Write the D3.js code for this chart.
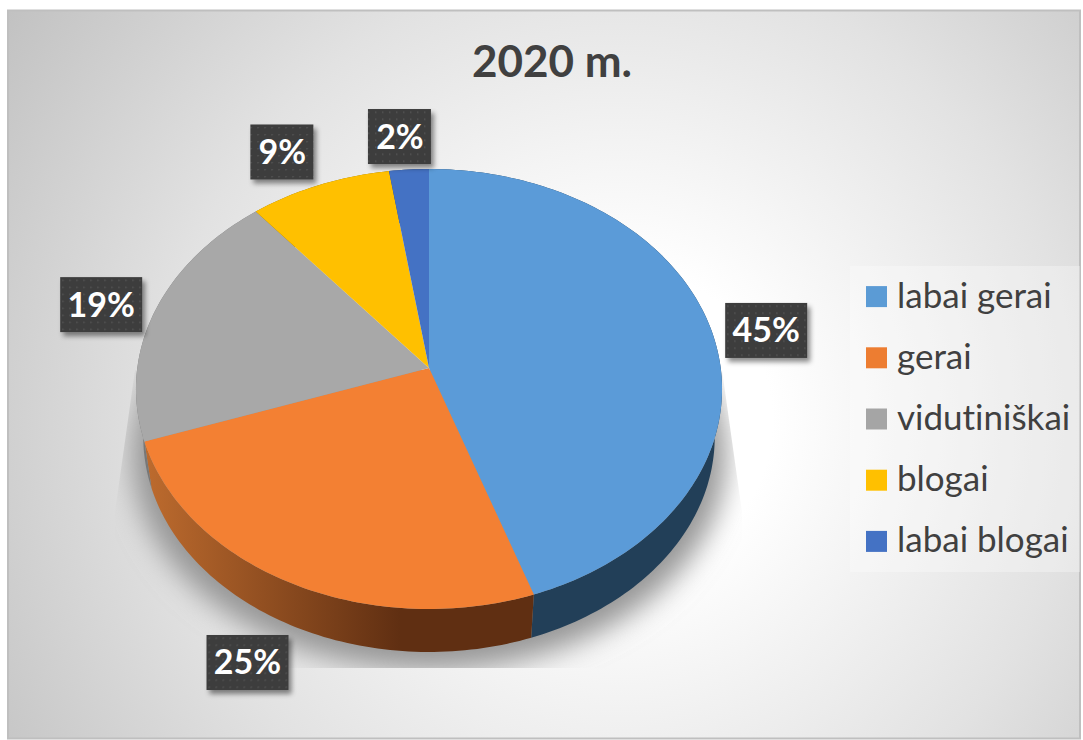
<!DOCTYPE html>
<html>
<head>
<meta charset="utf-8">
<title>2020 m.</title>
<style>
	body { margin: 0; background: #fff; font-family: Lato, sans-serif; }
	svg { display: block; }
	text { font-variant-ligatures: none; }
</style>
</head>
<body>
<script src="https://cdn.jsdelivr.net/npm/d3@7"></script>
<script>

// data
const categories = ["labai gerai", "gerai", "vidutiniškai", "blogai", "labai blogai"];
const values = [44.7, 25.0, 19.3, 8.6, 2.4];
const colors = ["#5B9BD5", "#ED7D31", "#A5A5A5", "#FFC000", "#4472C4"];
const faceColors = ["#5B9BD8", "#F38033", "#A8A8A8", "#FFC000", "#4472C4"];
const rimColors = ["#223F58", "url(#rimOrange)", "#777777", "#8a6a00", "#2a4478"];

// manual label placement, relative to the point on the pie edge
const labelNudge = [[54, -2], [-42, 80], [-54, -6], [-37, -33], [-9, -33]];

const W = 1083, H = 740;
const cx = 429, cy = 368;
const persp = -0.0955, ky = 218, kx = 291.7;  // tilt of the top face

// circle -> tilted top face
const project = a => {
	const u = Math.sin(a), v = -Math.cos(a), w = 1 + persp * v;
	return [cx + kx * u / w, cy + ky * v / w];
};
// same point on the bottom of the disc
const projectLow = a => {
	const p = project(a);
	return [cx + (p[0] - cx) * 0.975, 437 + (p[1] - 389) * 0.977];
};

const svg = d3.select("body").append("svg").attr("width", W).attr("height", H);
const defs = svg.append("defs");

const bg = defs.append("radialGradient").attr("id", "bg")
	.attr("gradientUnits", "userSpaceOnUse")
	.attr("cx", 620).attr("cy", 420).attr("r", 760);
bg.append("stop").attr("offset", "0.2").attr("stop-color", "#ffffff");
bg.append("stop").attr("offset", "0.6").attr("stop-color", "#e2e2e2");
bg.append("stop").attr("offset", "1").attr("stop-color", "#bfbfbf");

const rim = defs.append("linearGradient").attr("id", "rimOrange")
	.attr("gradientUnits", "userSpaceOnUse")
	.attr("x1", 145).attr("x2", 400).attr("y1", 0).attr("y2", 0);
rim.append("stop").attr("offset", "0").attr("stop-color", "#bd6b2e");
rim.append("stop").attr("offset", "1").attr("stop-color", "#602f12");

const dots = defs.append("pattern").attr("id", "dots")
	.attr("patternUnits", "userSpaceOnUse")
	.attr("width", 7).attr("height", 7);
dots.append("rect").attr("width", 7).attr("height", 7).attr("fill", "#3d3d3d");
dots.append("rect").attr("x", 3).attr("y", 3).attr("width", 1.4).attr("height", 1.4).attr("fill", "#575757");

defs.append("filter").attr("id", "blurBig")
	.attr("x", "-20%").attr("y", "-20%").attr("width", "140%").attr("height", "140%")
	.append("feGaussianBlur").attr("stdDeviation", 14);

const boxShadow = defs.append("filter").attr("id", "boxShadow")
	.attr("x", "-20%").attr("y", "-20%").attr("width", "150%").attr("height", "150%");
boxShadow.append("feDropShadow")
	.attr("dx", 3).attr("dy", 4).attr("stdDeviation", 2.5)
	.attr("flood-color", "#000").attr("flood-opacity", 0.45);

defs.append("clipPath").attr("id", "shadowClip")
	.append("polygon").attr("points", "135,370 115,512 115,668 742,668 742,512 722,370");

// background
svg.append("rect")
	.attr("x", 8).attr("y", 10.5).attr("width", W - 11).attr("height", H - 12)
	.attr("fill", "url(#bg)").attr("stroke", "#bfbfbf").attr("stroke-width", 2);

// pie layout
const pie = d3.pie().sort(null).value(d => d)(values);
const fullTurn = d3.range(0, 361, 2).map(d => d * Math.PI / 180);
const line = d3.line();

const arcAngles = (a, b) => {
	const n = Math.max(2, Math.ceil((b - a) / 0.02));
	return d3.range(n + 1).map(i => a + (b - a) * i / n);
};

// soft shadow under the disc
svg.append("g").attr("clip-path", "url(#shadowClip)")
	.append("path")
	.attr("d", line(fullTurn.map(a => {
		const p = projectLow(a);
		return [cx + (p[0] - cx) * 1.04, p[1] + 18];
	})) + "Z")
	.attr("fill", "#969696")
	.attr("filter", "url(#blurBig)");

// rim
svg.append("g").selectAll("path")
	.data(pie)
	.join("path")
	.attr("d", d => {
		const as = arcAngles(d.startAngle, d.endAngle);
		return line(as.map(project).concat(as.slice().reverse().map(projectLow))) + "Z";
	})
	.attr("fill", (d, i) => rimColors[i]);

// top face
svg.append("g").selectAll("path")
	.data(pie)
	.join("path")
	.attr("d", d => line([[cx, cy]].concat(arcAngles(d.startAngle, d.endAngle).map(project))) + "Z")
	.attr("fill", (d, i) => faceColors[i]);

// title
svg.append("text")
	.attr("x", 552).attr("y", 77)
	.attr("text-anchor", "middle")
	.attr("font-size", 44).attr("font-weight", 700)
	.attr("fill", "#404040")
	.text("2020 m.");

// data labels
const labels = svg.append("g").selectAll("g")
	.data(pie)
	.join("g")
	.attr("transform", (d, i) => {
		const p = project((d.startAngle + d.endAngle) / 2);
		return `translate(${p[0] + labelNudge[i][0]},${p[1] + labelNudge[i][1]})`;
	});

const labelText = d => Math.round(d.value) + "%";
labels.append("rect")
	.attr("x", d => labelText(d).length > 2 ? -41 : -32)
	.attr("width", d => labelText(d).length > 2 ? 82 : 63)
	.attr("y", -27.5).attr("height", 55)
	.attr("fill", "url(#dots)")
	.attr("filter", "url(#boxShadow)");
labels.append("text")
	.attr("text-anchor", "middle")
	.attr("y", 12)
	.attr("font-size", 34).attr("font-weight", 700)
	.attr("fill", "#fff")
	.text(labelText);

// legend
const legendY = d3.scaleBand().domain(categories).range([266, 572]);
const legendColor = d3.scaleOrdinal().domain(categories).range(colors);

svg.append("rect")
	.attr("x", 850).attr("y", 266).attr("width", 230).attr("height", 306)
	.attr("fill", "#fff").attr("fill-opacity", 0.3);

const legend = svg.append("g").selectAll("g")
	.data(categories)
	.join("g")
	.attr("transform", d => `translate(866,${legendY(d) + legendY.bandwidth() / 2})`);

legend.append("rect")
	.attr("y", -10.5).attr("width", 21).attr("height", 21)
	.attr("fill", d => legendColor(d));
legend.append("text")
	.attr("x", 31).attr("y", 11)
	.attr("font-size", 35)
	.attr("fill", "#404040")
	.text(d => d);

</script>
</body>
</html>
